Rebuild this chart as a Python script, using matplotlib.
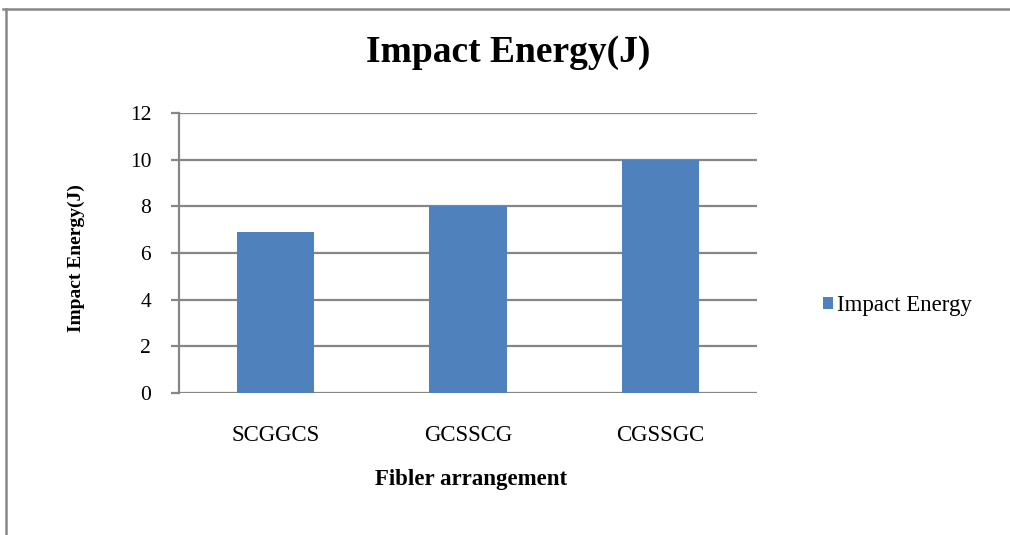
import matplotlib
matplotlib.use("Agg")
import matplotlib.pyplot as plt
from matplotlib.lines import Line2D

# Data
arrangements = ["SCGGCS", "GCSSCG", "CGSSGC"]
impact_energy = [6.9, 8.0, 10.0]
y_ticks = [0, 2, 4, 6, 8, 10, 12]
series_name = "Impact Energy"

plt.rcParams["font.family"] = ["Liberation Serif", "DejaVu Serif"]

W, H = 1010, 535
fig = plt.figure(figsize=(W / 100, H / 100), dpi=100)
fig.patch.set_facecolor("white")

grid_color = "#868686"
bar_color = "#4F81BD"

ax = fig.add_axes([179 / W, 1 - 393 / H, (757 - 179) / W, 280 / H])
x = list(range(len(arrangements)))
bars = ax.bar(x, impact_energy, width=0.4, color=bar_color, zorder=3,
              label=series_name)

ax.set_xlim(-0.5, len(arrangements) - 0.5)
ax.set_ylim(0, 12)
ax.set_yticks(y_ticks)
ax.set_yticklabels([str(t) for t in y_ticks], fontsize=15.5)
ax.set_xticks(x)
ax.set_xticklabels(arrangements, fontsize=16.5)

ax.yaxis.grid(True, color=grid_color, linewidth=1.6, zorder=0)
ax.set_axisbelow(True)
for side in ("top", "right", "bottom"):
    ax.spines[side].set_visible(False)
ax.spines["left"].set_color(grid_color)
ax.spines["left"].set_linewidth(1.6)
ax.tick_params(axis="y", length=6, width=1.6, color=grid_color, pad=14)
ax.tick_params(axis="x", length=0, pad=23)

# Titles
fig.text(508 / W, 1 - 52 / H, "Impact Energy(J)", fontsize=27,
         fontweight="bold", ha="center", va="center")
fig.text(471 / W, 1 - 479 / H, "Fibler arrangement", fontsize=16.5,
         fontweight="bold", ha="center", va="center")
fig.text(76 / W, 1 - 258 / H, "Impact Energy(J)", fontsize=14,
         fontweight="bold", ha="center", va="center", rotation=90)

# Legend
fig.legend(handles=[bars], labels=[series_name], loc="center left",
           bbox_to_anchor=(823 / W, 1 - 306 / H), frameon=False,
           fontsize=16.5, handlelength=0.45, handleheight=0.45,
           handletextpad=0.15, borderaxespad=0, borderpad=0)

# Frame lines along the top and left edges
fig.add_artist(Line2D([3 / W, 1], [1 - 9 / H, 1 - 9 / H],
                      transform=fig.transFigure, color="#888888", linewidth=1.8))
fig.add_artist(Line2D([6 / W, 6 / W], [0, 1 - 9 / H],
                      transform=fig.transFigure, color="#888888", linewidth=1.8))

fig.savefig("out.png", dpi=100, facecolor="white")
